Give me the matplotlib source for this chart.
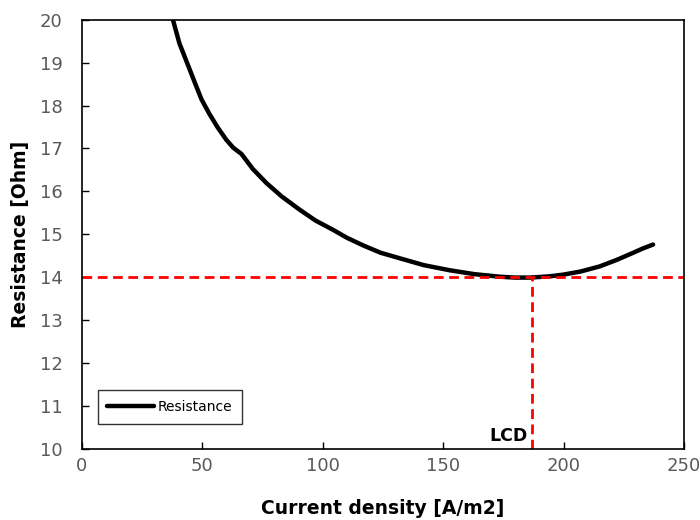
import matplotlib
matplotlib.use("Agg")
import matplotlib.pyplot as plt

# values
current_density = [37.8, 40.5, 44.0, 47.0, 49.7, 53.0, 56.5, 60.0, 62.8, 66.3, 71.0, 76.7, 83.0,
                   90.5, 97.0, 104.4, 110.0, 116.8, 124.0, 132.0, 142.0, 152.8, 163.0, 173.6,
                   180.0, 186.0, 194.4, 200.0, 207.0, 215.0, 222.0, 229.0, 233.0, 237.2]
resistance = [20.0, 19.45, 18.95, 18.52, 18.14, 17.8, 17.48, 17.2, 17.02, 16.87, 16.52, 16.19, 15.88,
              15.57, 15.32, 15.1, 14.92, 14.74, 14.57, 14.44, 14.28, 14.16, 14.07, 14.01,
              13.99, 13.99, 14.02, 14.06, 14.13, 14.25, 14.4, 14.57, 14.67, 14.76]
lcd_x = 187
lcd_y = 14

plt.rcParams['font.family'] = ['DejaVu Sans']

fig = plt.figure(figsize=(7, 5.2), dpi=100)
ax = fig.add_axes([0.117, 0.137, 0.86, 0.825])

ax.plot(current_density, resistance, color='black', linewidth=3.2, label='Resistance',
        solid_capstyle='round', solid_joinstyle='round')
ax.plot([0, 250], [lcd_y, lcd_y], color='#ff0000', linestyle=(0, (3.5, 2)), linewidth=2)
ax.plot([lcd_x, lcd_x], [10, lcd_y], color='#ff0000', linestyle=(0, (3.5, 2)), linewidth=2)
ax.text(lcd_x - 2, 10.08, 'LCD', ha='right', va='bottom', fontsize=12.5, fontweight='bold')

ax.set_xlim(0, 250)
ax.set_ylim(10, 20)
ax.set_xticks(range(0, 251, 50))
ax.set_yticks(range(10, 21, 1))
ax.tick_params(direction='in', length=5, width=1, colors='black', labelcolor='#595959',
               labelsize=13)
ax.tick_params(axis='y', pad=14)
ax.tick_params(axis='x', pad=6)
for s in ax.spines.values():
    s.set_linewidth(1.2)

ax.set_xlabel('Current density [A/m2]', fontsize=13.5, fontweight='bold', labelpad=17)
ax.set_ylabel('Resistance [Ohm]', fontsize=13.5, fontweight='bold', labelpad=7)

leg = ax.legend(loc='lower left', bbox_to_anchor=(0.026, 0.058), borderaxespad=0, fontsize=10,
                frameon=True, fancybox=False, edgecolor='black', handlelength=3.4,
                borderpad=0.7, handletextpad=0.25)
leg.get_frame().set_linewidth(1)

fig.savefig('out.png', dpi=100)
